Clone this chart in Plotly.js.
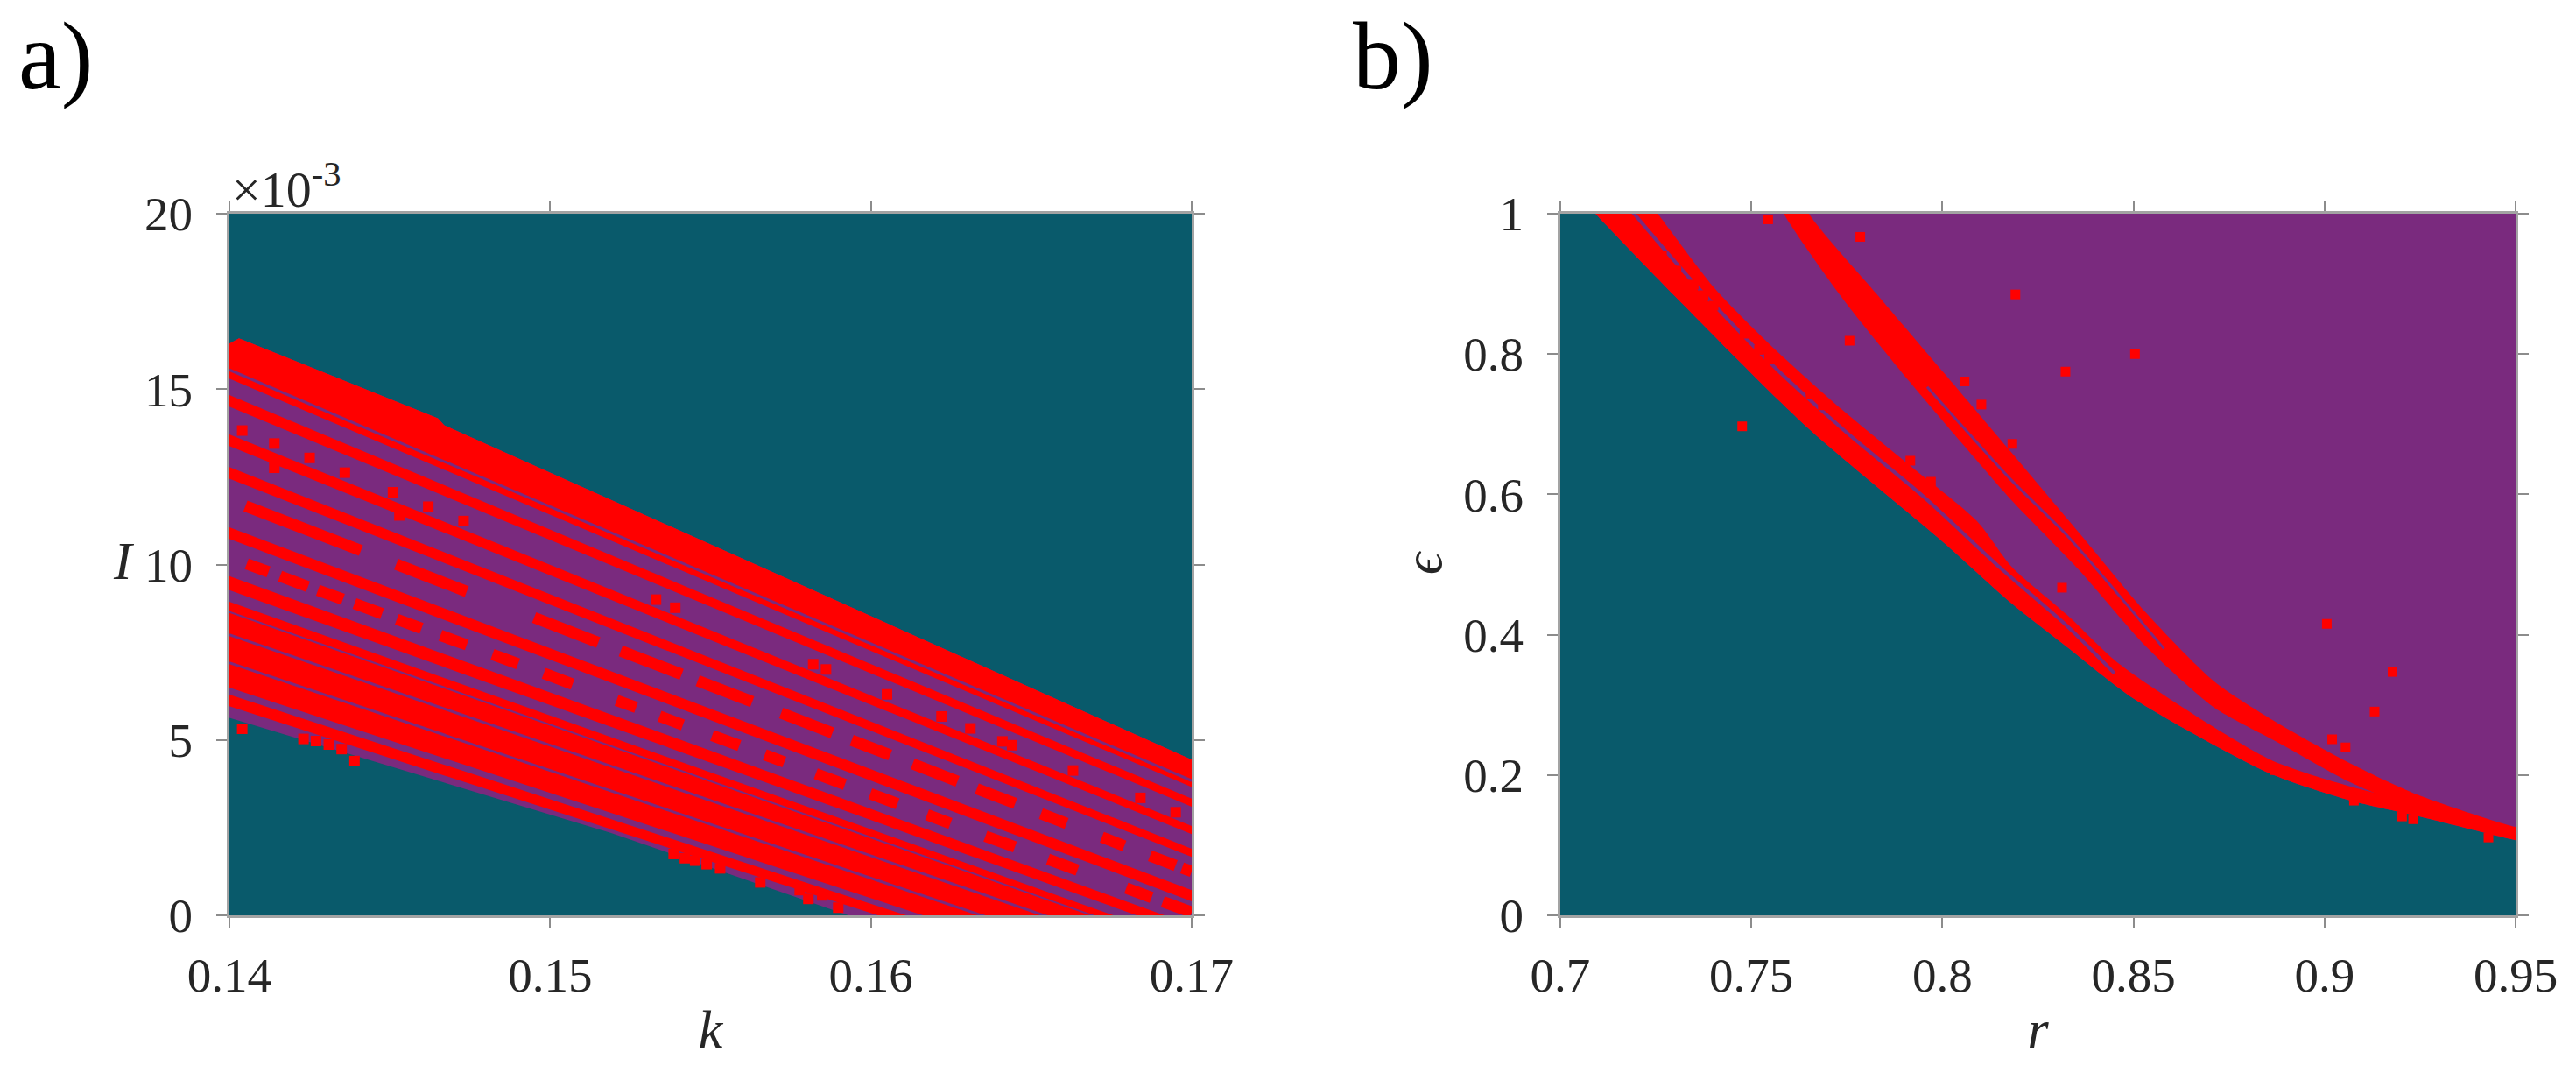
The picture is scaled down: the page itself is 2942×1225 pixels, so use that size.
<!DOCTYPE html>
<html><head><meta charset="utf-8">
<script src="https://cdn.plot.ly/plotly-3.0.1.min.js"></script>
<style>html,body{margin:0;padding:0;background:#fff;}#chart{width:2942px;height:1225px;}</style>
</head><body><div id="chart"></div>
<script>
// ================= Panel a: k vs I (I in units of 1e-3) =================
const kTicks = [0.14, 0.15, 0.16, 0.17];
const kTickText = ['0.14', '0.15', '0.16', '0.17'];
const iTicks = [0, 5, 10, 15, 20];
const iTickText = ['0', '5', '10', '15', '20'];

// outline of the purple region
const regionA_k = [0.14, 0.1403, 0.1465, 0.1467, 0.17, 0.17, 0.1593, 0.1519, 0.14];
const regionA_I = [16.3, 16.45, 14.17, 13.97, 4.44, 0, 0, 2.35, 5.63];

// top red band: upper edge, and lower edge values at k=0.14 / k=0.17
const topBand_k = [0.14, 0.1403, 0.1465, 0.1467, 0.17];
const topBand_I = [16.3, 16.45, 14.17, 13.97, 4.44];
const topBandLowLeft = 15.30, topBandLowRight = 3.66;

// red stripes: edge values at k = 0.14 (left) and k = 0.17 (right)
const stripeLeftTop  = [14.83, 13.71, 12.78, 11.06, 9.67, 8.94, 8.62, 6.29];
const stripeLeftBot  = [14.50, 13.38, 12.45, 10.73, 9.27, 8.68, 6.49, 5.96];
const stripeRightTop = [3.33, 2.55, 1.90, 0.72, -0.28, -0.79, -1.02, -2.65];
const stripeRightBot = [3.10, 2.32, 1.67, 0.40, -0.56, -0.97, -2.51, -2.88];

// thin purple lines inside red bands
const thinLeft  = [15.55, 8.0, 7.2];
const thinRight = [3.84, -1.45, -2.01];

// dashed red row (upper)
const d2_k0 = [0.1405, 0.1452, 0.1495, 0.1522, 0.1546, 0.1572, 0.1594, 0.1613, 0.1633, 0.1653, 0.1672, 0.1687, 0.1697];
const d2_k1 = [0.1441, 0.1474, 0.1515, 0.1541, 0.1563, 0.1588, 0.1606, 0.1627, 0.1645, 0.1661, 0.1679, 0.1695, 0.1700];
const d2_I0 = [11.67, 10.01, 8.49, 7.54, 6.69, 5.77, 4.99, 4.32, 3.61, 2.90, 2.23, 1.70, 1.35];
const d2_I1 = [10.40, 9.23, 7.78, 6.87, 6.09, 5.20, 4.57, 3.82, 3.19, 2.62, 1.98, 1.42, 1.25];
// dashed red row (lower)
const d3_k0 = [0.14054, 0.14158, 0.14276, 0.1439, 0.14522, 0.14658, 0.1482, 0.1498, 0.15207, 0.15341, 0.15505, 0.15669, 0.15828, 0.15998, 0.16175, 0.16357, 0.16552, 0.16796, 0.1691];
const d3_k1 = [0.14122, 0.14245, 0.14354, 0.14476, 0.14599, 0.1474, 0.1490, 0.1507, 0.15268, 0.15414, 0.1559, 0.1573, 0.15919, 0.16083, 0.16248, 0.16449, 0.16644, 0.16875, 0.1700];
const d3_I0 = [10.02, 9.67, 9.27, 8.89, 8.44, 7.98, 7.44, 6.90, 6.13, 5.68, 5.13, 4.58, 4.04, 3.47, 2.87, 2.26, 1.60, 0.78, 0.39];
const d3_I1 = [9.79, 9.37, 9.01, 8.60, 8.18, 7.71, 7.17, 6.59, 5.93, 5.43, 4.84, 4.37, 3.73, 3.18, 2.62, 1.95, 1.29, 0.51, 0.09];

// step squares along stripes
const stepsA_k = [0.1404, 0.1414, 0.1425, 0.1436, 0.1451, 0.1462, 0.1473, 0.1533, 0.1539, 0.1582, 0.1586, 0.1605, 0.1622, 0.1631, 0.1641, 0.1644, 0.1663, 0.1684, 0.1695, 0.1414, 0.1453];
const stepsA_I = [13.82, 13.45, 13.04, 12.62, 12.06, 11.65, 11.24, 9.00, 8.77, 7.16, 7.01, 6.30, 5.67, 5.33, 4.96, 4.85, 4.13, 3.35, 2.94, 12.76, 11.40];
// isolated squares at the lower boundary
const dotsA_k = [0.1404, 0.14231, 0.1427, 0.1431, 0.1435, 0.1439, 0.15385, 0.1542, 0.15452, 0.15488, 0.1553, 0.15655, 0.15778, 0.15805, 0.15848, 0.15898];
const dotsA_I = [5.32, 5.03, 4.97, 4.87, 4.74, 4.40, 1.75, 1.63, 1.56, 1.46, 1.34, 0.94, 0.72, 0.47, 0.57, 0.22];

// ================= Panel b: r vs epsilon =================
const rTicks = [0.7, 0.75, 0.8, 0.85, 0.9, 0.95];
const rTickText = ['0.7', '0.75', '0.8', '0.85', '0.9', '0.95'];
const eTicks = [0, 0.2, 0.4, 0.6, 0.8, 1];
const eTickText = ['0', '0.2', '0.4', '0.6', '0.8', '1'];

// boundary between teal and purple (lower edge of lower red band)
const tealEdge_r = [0.7035, 0.7092, 0.7299, 0.7643, 0.8004, 0.818, 0.8327, 0.85, 0.8854, 0.9066, 0.924, 0.95, 0.96];
const tealEdge_e = [1.035, 1.0, 0.883, 0.697, 0.531, 0.445, 0.382, 0.309, 0.203, 0.164, 0.142, 0.107, 0.096];
// outer edge of lower red band
const lOuter_r = [0.7205, 0.7255, 0.7405, 0.7563, 0.7739, 0.7915, 0.8092, 0.8181, 0.8327, 0.8466, 0.8854, 0.9066, 0.924, 0.95, 0.96];
const lOuter_e = [1.035, 1.0, 0.893, 0.806, 0.720, 0.641, 0.561, 0.497, 0.428, 0.357, 0.223, 0.184, 0.16, 0.12, 0.11];
// thin purple gap inside lower band
const lGap_r = [0.7140, 0.7193, 0.735, 0.755, 0.775, 0.795, 0.815, 0.8327, 0.845];
const lGap_e = [1.035, 1.0, 0.901, 0.787, 0.688, 0.597, 0.496, 0.412, 0.345];
// upper red band edges
const uTop_r = [0.7628, 0.7651, 0.7827, 0.8004, 0.818, 0.8358, 0.8535, 0.8712, 0.889, 0.9066, 0.9243, 0.95, 0.96];
const uTop_e = [1.035, 1.0, 0.886, 0.773, 0.660, 0.545, 0.43, 0.333, 0.27, 0.217, 0.172, 0.126, 0.119];
const uBot_r = [0.7560, 0.7585, 0.7739, 0.7915, 0.8092, 0.818, 0.8358, 0.8535, 0.8712, 0.889, 0.9066, 0.9243, 0.95, 0.96];
const uBot_e = [1.035, 1.0, 0.879, 0.760, 0.647, 0.592, 0.492, 0.382, 0.296, 0.243, 0.19, 0.15, 0.111, 0.105];
const uInner_r = [0.796, 0.8181, 0.8327, 0.858];
const uInner_e = [0.753, 0.620, 0.541, 0.38];
// isolated red squares
const dotsB_r = [0.7544, 0.7785, 0.7757, 0.8058, 0.8102, 0.8183, 0.7916, 0.797, 0.8191, 0.8322, 0.8313, 0.7476, 0.8504, 0.9006, 0.9178, 0.9131, 0.902, 0.9055, 0.9077, 0.9203, 0.9232, 0.9429, 0.8871];
const dotsB_e = [0.992, 0.967, 0.819, 0.761, 0.728, 0.672, 0.648, 0.618, 0.885, 0.775, 0.467, 0.697, 0.800, 0.4155, 0.347, 0.2905, 0.251, 0.2395, 0.1635, 0.141, 0.137, 0.111, 0.207];
const gapDots_r = [0.7227, 0.7266, 0.7304, 0.7349, 0.7375, 0.7401, 0.7482, 0.752, 0.7546, 0.7655, 0.7687];
const gapDots_e = [0.960, 0.940, 0.919, 0.899, 0.884, 0.869, 0.829, 0.806, 0.793, 0.743, 0.727];

// ================= styles =================
const TEAL = '#095a6b', PURPLE = '#7a2a7e', RED = '#ff0000';
const FONT = 'Liberation Serif, Times New Roman, serif';
const traces = [];
function poly(xs, ys, color, ax, smooth) {
  const line = {width: 0, color: color};
  if (smooth) { line.shape = 'spline'; line.smoothing = 0.7; }
  traces.push({x: xs, y: ys, xaxis: ax[0], yaxis: ax[1], mode: 'lines', fill: 'toself',
    fillcolor: color, line: line, hoverinfo: 'skip', showlegend: false});
}
function lines(xs, ys, color, width, ax, smooth) {
  const line = {width: width, color: color};
  if (smooth) { line.shape = 'spline'; line.smoothing = 0.7; }
  traces.push({x: xs, y: ys, xaxis: ax[0], yaxis: ax[1], mode: 'lines',
    line: line, hoverinfo: 'skip', showlegend: false});
}
function squares(xs, ys, size, ax) {
  traces.push({x: xs, y: ys, xaxis: ax[0], yaxis: ax[1], mode: 'markers',
    marker: {symbol: 'square', size: size, color: RED, line: {width: 0}}, hoverinfo: 'skip', showlegend: false});
}
const A = ['x', 'y'], B = ['x2', 'y2'];
const K0 = kTicks[0], K1 = kTicks[kTicks.length - 1];

// ---- panel a ----
poly(regionA_k, regionA_I, PURPLE, A);
poly(topBand_k.concat([K1, K0]), topBand_I.concat([topBandLowRight, topBandLowLeft]), RED, A);
stripeLeftTop.forEach((v, i) => {
  poly([K0, K1, K1, K0], [v, stripeRightTop[i], stripeRightBot[i], stripeLeftBot[i]], RED, A);
});
{
  const xs = [], ys = [];
  thinLeft.forEach((v, i) => { xs.push(K0, K1, null); ys.push(v, thinRight[i], null); });
  lines(xs, ys, PURPLE, 3, A);
}
{
  const xs = [], ys = [];
  d2_k0.forEach((k, i) => { xs.push(k, d2_k1[i], null); ys.push(d2_I0[i], d2_I1[i], null); });
  d3_k0.forEach((k, i) => { xs.push(k, d3_k1[i], null); ys.push(d3_I0[i], d3_I1[i], null); });
  lines(xs, ys, RED, 13, A);
}
squares(stepsA_k, stepsA_I, 12, A);
squares(dotsA_k, dotsA_I, 12, A);

// ---- panel b ----
poly(tealEdge_r.concat([0.97, 0.97, 0.70]), tealEdge_e.concat([0.08, 1.06, 1.06]), PURPLE, B, true);
poly(tealEdge_r.concat(lOuter_r.slice().reverse()), tealEdge_e.concat(lOuter_e.slice().reverse()), RED, B, true);
lines(lGap_r, lGap_e, PURPLE, 4, B, true);
poly(uTop_r.concat(uBot_r.slice().reverse()), uTop_e.concat(uBot_e.slice().reverse()), RED, B, true);
lines(uInner_r, uInner_e, PURPLE, 3, B, true);
squares(gapDots_r, gapDots_e, 11, B);
squares(dotsB_r, dotsB_e, 11, B);

// ================= layout =================
const tickFont = {family: FONT, size: 55, color: '#262626'};
const titleFont = {family: FONT, size: 62, color: '#262626'};
function axis(extra) {
  return Object.assign({
    showgrid: false, zeroline: false, showline: true, linecolor: '#a3a3a3', linewidth: 3,
    mirror: 'ticks', ticks: 'outside', ticklen: 12, tickwidth: 2, tickcolor: '#8c8c8c',
    tickfont: tickFont, tickmode: 'array', automargin: false, fixedrange: true
  }, extra);
}
const yDom = [0.1469, 0.8008];
const layout = {
  width: 2942, height: 1225, margin: {l: 0, r: 0, t: 0, b: 0},
  paper_bgcolor: '#ffffff', plot_bgcolor: TEAL, showlegend: false,
  xaxis: axis({domain: [0.08905, 0.46261], range: [K0, K1], tickvals: kTicks, ticktext: kTickText,
    anchor: 'y', ticklabelstandoff: 6,
    title: {text: '<i>k</i>', font: titleFont, standoff: 10}}),
  yaxis: axis({domain: yDom, range: [0, 20], tickvals: iTicks, ticktext: iTickText,
    anchor: 'x', ticklabelstandoff: 16}),
  xaxis2: axis({domain: [0.60571, 0.97655], range: [0.7, 0.95], tickvals: rTicks, ticktext: rTickText,
    anchor: 'y2', ticklabelstandoff: 6,
    title: {text: '<i>r</i>', font: titleFont, standoff: 10}}),
  yaxis2: axis({domain: yDom, range: [0, 1], tickvals: eTicks, ticktext: eTickText,
    anchor: 'x2', ticklabelstandoff: 16}),
  annotations: [
    {text: '<i>I</i>', xref: 'paper', yref: 'paper', x: 141 / 2942, y: 1 - 640 / 1225, xanchor: 'center', yanchor: 'middle',
      showarrow: false, font: titleFont},
    {text: '<i>\u03f5</i>', xref: 'paper', yref: 'paper', x: 1625 / 2942, y: 1 - 643 / 1225, xanchor: 'center', yanchor: 'middle',
      textangle: -90, showarrow: false, font: titleFont},
    {text: 'a)', xref: 'paper', yref: 'paper', x: 0.0065, y: 0.999, xanchor: 'left', yanchor: 'top',
      showarrow: false, font: {family: FONT, size: 110, color: '#000'}},
    {text: 'b)', xref: 'paper', yref: 'paper', x: 0.5245, y: 0.999, xanchor: 'left', yanchor: 'top',
      showarrow: false, font: {family: FONT, size: 110, color: '#000'}},
    {text: '\u00d710<sup>-3</sup>', xref: 'paper', yref: 'paper', x: 0.0895, y: 0.7955, xanchor: 'left', yanchor: 'bottom',
      showarrow: false, font: {family: FONT, size: 58, color: '#262626'}}
  ]
};
Plotly.newPlot('chart', traces, layout, {staticPlot: true, displayModeBar: false});
</script>
</body></html>
